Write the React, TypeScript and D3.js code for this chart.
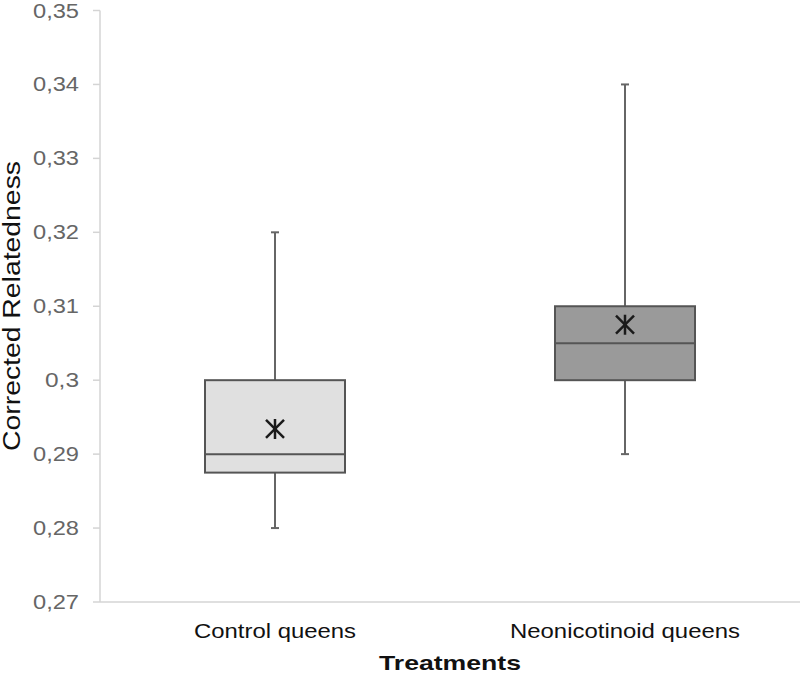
import React from "react";
import * as d3 from "d3";

const categories = ["Control queens", "Neonicotinoid queens"];
const minValues = [0.28, 0.29];
const q1Values = [0.2875, 0.3];
const medianValues = [0.29, 0.305];
const q3Values = [0.3, 0.31];
const maxValues = [0.32, 0.34];
const meanValues = [0.2934, 0.3075];
const boxFills = ["#e0e0e0", "#9a9a9a"];
const yTicks = [0.27, 0.28, 0.29, 0.3, 0.31, 0.32, 0.33, 0.34, 0.35];
const yTickLabels = ["0,27", "0,28", "0,29", "0,3", "0,31", "0,32", "0,33", "0,34", "0,35"];
const catLabelWidths = [162, 230];

export default function App() {
  const W = 800, H = 676;
  const y = d3.scaleLinear().domain([0.27, 0.35]).range([602, 10.5]);
  const x = d3.scaleBand().domain(categories).range([100, 800]).padding(0);
  const bw = x.bandwidth() * 0.4;
  const font = "'Liberation Sans', Arial, sans-serif";
  const labelW = (s: string) => (s.length <= 3 ? 34 : 46);

  return (
    <svg width={W} height={H} style={{ position: "absolute", left: 0, top: 0, background: "#fff" }}>
      {/* axes */}
      <line x1={100} x2={100} y1={y(0.35)} y2={y(0.27)} stroke="#d4d4d4" strokeWidth={1.5} />
      <line x1={100} x2={800} y1={y(0.27)} y2={y(0.27)} stroke="#d4d4d4" strokeWidth={1.5} />
      {yTicks.map((t, i) => (
        <g key={i}>
          <line x1={93} x2={100} y1={y(t)} y2={y(t)} stroke="#d4d4d4" strokeWidth={1.5} />
          <text
            x={79}
            y={y(t) + 7}
            textAnchor="end"
            fontFamily={font}
            fontSize={20}
            fill="#666"
            textLength={labelW(yTickLabels[i])}
            lengthAdjust="spacingAndGlyphs"
          >
            {yTickLabels[i]}
          </text>
        </g>
      ))}
      {/* boxes */}
      {categories.map((c, i) => {
        const cx = (x(c) as number) + x.bandwidth() / 2;
        const my = y(meanValues[i]);
        const s = 9;
        return (
          <g key={c}>
            <line x1={cx} x2={cx} y1={y(maxValues[i])} y2={y(q3Values[i])} stroke="#666" strokeWidth={2} />
            <line x1={cx} x2={cx} y1={y(q1Values[i])} y2={y(minValues[i])} stroke="#666" strokeWidth={2} />
            <line x1={cx - 4} x2={cx + 4} y1={y(maxValues[i])} y2={y(maxValues[i])} stroke="#666" strokeWidth={2} />
            <line x1={cx - 4} x2={cx + 4} y1={y(minValues[i])} y2={y(minValues[i])} stroke="#666" strokeWidth={2} />
            <rect
              x={cx - bw / 2}
              y={y(q3Values[i])}
              width={bw}
              height={y(q1Values[i]) - y(q3Values[i])}
              fill={boxFills[i]}
              stroke="#555"
              strokeWidth={2}
            />
            <line x1={cx - bw / 2} x2={cx + bw / 2} y1={y(medianValues[i])} y2={y(medianValues[i])} stroke="#555" strokeWidth={2} />
            <g stroke="#1a1a1a" strokeWidth={2.5}>
              <line x1={cx - s} x2={cx + s} y1={my - s} y2={my + s} />
              <line x1={cx - s} x2={cx + s} y1={my + s} y2={my - s} />
              <line x1={cx} x2={cx} y1={my - s - 1} y2={my + s + 1} />
            </g>
            <text
              x={cx}
              y={638}
              textAnchor="middle"
              fontFamily={font}
              fontSize={21}
              fill="#111"
              textLength={catLabelWidths[i]}
              lengthAdjust="spacingAndGlyphs"
            >
              {c}
            </text>
          </g>
        );
      })}
      <text
        x={450}
        y={670}
        textAnchor="middle"
        fontFamily={font}
        fontWeight="bold"
        fontSize={21}
        fill="#111"
        textLength={142}
        lengthAdjust="spacingAndGlyphs"
      >
        Treatments
      </text>
      <text
        transform={`translate(20, 306) rotate(-90)`}
        textAnchor="middle"
        fontFamily={font}
        fontSize={23}
        fill="#111"
        textLength={290}
        lengthAdjust="spacingAndGlyphs"
      >
        Corrected Relatedness
      </text>
    </svg>
  );
}
